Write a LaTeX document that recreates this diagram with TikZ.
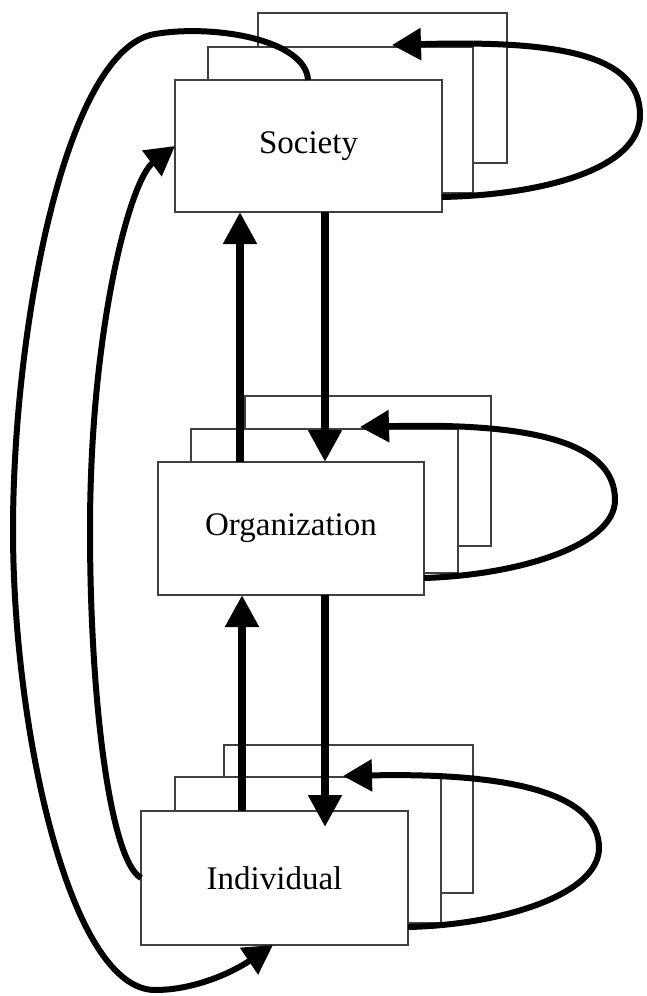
\documentclass[tikz,border=0pt]{standalone}
\usepackage{fontspec}
\setmainfont{Liberation Serif}
\usetikzlibrary{arrows.meta}
\begin{document}
\begin{tikzpicture}[x=1pt,y=-1pt,
  box/.style={draw=black!75,line width=1.2pt,fill=white,rectangle,inner sep=0pt,outer sep=0pt},
  lbl/.style={font=\fontsize{33}{40}\selectfont},
  vert/.style={line width=8.5pt,-{Triangle[length=32pt,width=32pt]}},
  curve/.style={line width=6pt,-{Triangle[length=29pt,width=31pt]}}]
\useasboundingbox (0,0) rectangle (646,996);
% Society
\node[box,minimum width=249pt,minimum height=150pt] (sb) at (382.5,88) {};
\node[box,minimum width=265pt,minimum height=146pt] (sm) at (340.5,120) {};
\node[box,lbl,minimum width=267pt,minimum height=132pt] (sf) at (308.5,146) {Society};
% Organization
\node[box,minimum width=246pt,minimum height=150pt] (ob) at (368,471) {};
\node[box,minimum width=267pt,minimum height=144pt] (om) at (324.5,501) {};
\node[box,lbl,minimum width=266pt,minimum height=133pt] (of) at (291,528.5) {Organization};
% Individual
\node[box,minimum width=249pt,minimum height=148pt] (ib) at (348.5,819) {};
\node[box,minimum width=266pt,minimum height=146pt] (im) at (308,850) {};
\node[box,lbl,minimum width=267pt,minimum height=134pt] (if) at (274.5,878) {Individual};
% vertical arrows
\draw[vert] ([xshift=82pt]of.north west) -- ([xshift=65pt]sf.south west);
\draw[vert] ([xshift=150pt]sf.south west) -- ([xshift=167pt]of.north west);
\draw[vert] ([xshift=101pt]if.north west) -- ([xshift=84pt]of.south west);
\draw[vert] ([xshift=167pt]of.south west) -- ([xshift=184pt,yshift=-16pt]if.north west);
% self loops
\draw[curve] ([yshift=15pt]sf.south east) .. controls (540,195) and (640,170) .. (640,115)
  .. controls (640,55) and (560,40) .. ([xshift=184pt,yshift=2pt]sm.north west);
\draw[curve] ([yshift=17pt]of.south east) .. controls (520,575) and (615,545) .. (615,500)
  .. controls (615,445) and (540,422) .. ([xshift=169pt,yshift=2pt]om.north west);
\draw[curve] ([yshift=18pt]if.south east) .. controls (500,925) and (599,895) .. (599,848)
  .. controls (599,800) and (530,772) .. ([xshift=168pt,yshift=1pt]im.north west);
% long curves on the left
\draw[curve] ([xshift=133pt]sf.north west) .. controls (306,40) and (215,24) .. (155,34)
  .. controls (65,49) and (13,330) .. (13,530)
  .. controls (13,730) and (70,990) .. (155,990)
  .. controls (195,990) and (233,972) .. ([xshift=132pt]if.south west);
\draw[curve] (if.west) .. controls (110,860) and (90,700) .. (90,530)
  .. controls (90,330) and (130,180) .. (sf.west);
\end{tikzpicture}
\end{document}
